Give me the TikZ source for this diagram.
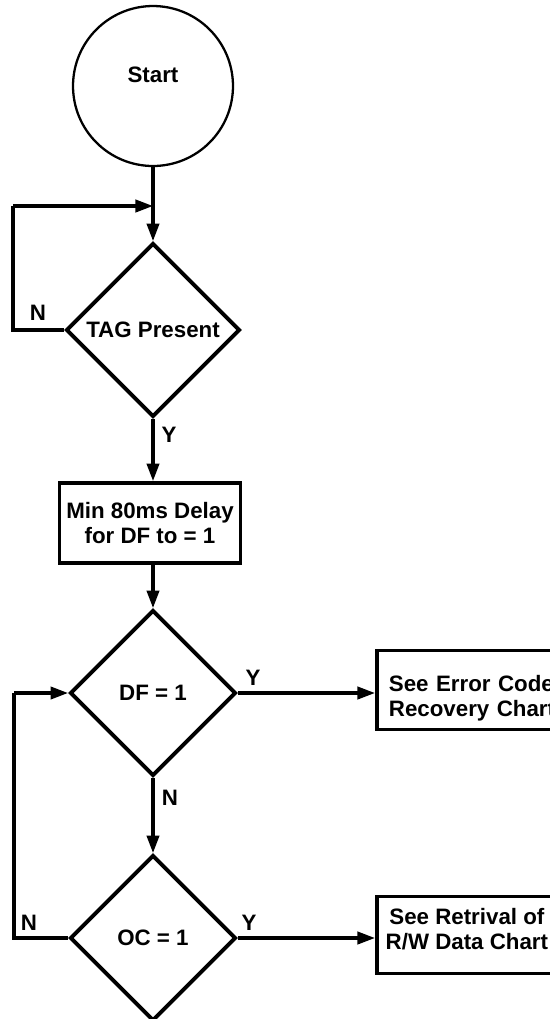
\documentclass[tikz,border=0pt]{standalone}
\usepackage{fontspec}
\setmainfont{Liberation Sans}
\usetikzlibrary{shapes.geometric,arrows.meta}

\tikzset{
  every node/.style={font=\fontsize{12.7}{14.2}\selectfont\bfseries, text=black},
  decision/.style={diamond, draw, line width=2.2pt, inner sep=0pt, aspect=1},
  procbox/.style={rectangle, draw, line width=2.2pt, inner sep=0pt, align=center},
  flow/.style={line width=1.8pt, -{Triangle[length=10pt,width=7pt]}},
  wire/.style={line width=1.8pt},
  tag/.style={inner sep=0pt}
}

\begin{document}
\begin{tikzpicture}[x=0.02cm, y=-0.02cm]
  \clip (0,0) rectangle (550,1019);
  \fill[white] (0,0) rectangle (550,1019);

  % start terminal
  \node[circle, draw, line width=1.3pt, minimum size=3.2cm, inner sep=0pt] (start) at (153,86) {};
  \node[tag] (starttxt) at (153,75) {Start};

  % decisions
  \node[decision, minimum width=3.48cm, minimum height=3.48cm] (tagp) at (153,330) {TAG Present};
  \node[decision, minimum width=3.32cm, minimum height=3.32cm] (df) at (153,693) {DF = 1};
  \node[decision, minimum width=3.32cm, minimum height=3.32cm] (oc) at (153,938) {OC = 1};

  % process boxes
  \node[procbox, minimum width=3.62cm, minimum height=1.6cm] (delay) at (150,523) {Min 80ms Delay\\for DF to = 1};
  \node[procbox, anchor=west, minimum width=3.6cm, minimum height=1.58cm, align=left, text width=3.36cm, inner xsep=0.24cm, text depth=8pt] (err) at (375,690) {See Error Code\\Recovery Chart};
  \node[procbox, anchor=west, minimum width=3.6cm, minimum height=1.54cm, text depth=7pt] (rw) at (375,935) {See Retrival of\\R/W Data Chart};

  % main flow
  \coordinate (join) at (153,206);
  \draw[flow] (start.south) -- (tagp.north);
  \draw[wire] (tagp.west) -- (13,330) -- (13,206);
  \draw[flow] (13,206) -- (join);
  \draw[flow] (tagp.south) -- (tagp.south |- delay.north);
  \draw[flow] (delay.south -| df.north) -- (df.north);
  \draw[flow] (df.east) -- (err.west |- df.east);
  \draw[flow] (df.south) -- (oc.north);
  \draw[flow] (oc.east) -- (rw.west |- oc.east);
  \draw[wire] (oc.west) -- (14,938) -- (14,693);
  \draw[flow] (14,693) -- (df.west);

  % branch labels
  \node[tag] (n1) at (38,313) {N};
  \node[tag] (y1) at (169,435) {Y};
  \node[tag] (y2) at (253,678) {Y};
  \node[tag] (n2) at (170,798) {N};
  \node[tag] (n3) at (29,923) {N};
  \node[tag] (y3) at (249,923) {Y};
\end{tikzpicture}
\end{document}
